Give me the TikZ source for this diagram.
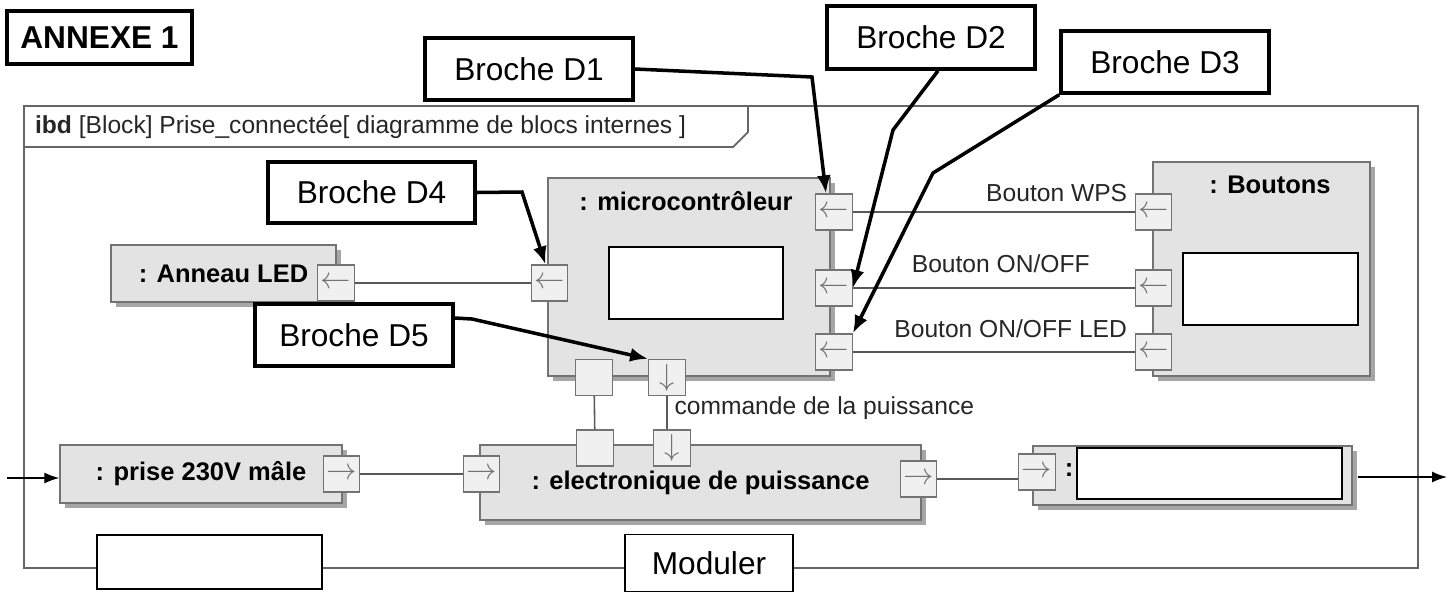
\documentclass[tikz,border=0pt]{standalone}
\usepackage{fontspec}
\setmainfont{Liberation Sans}
\usetikzlibrary{arrows.meta,shadows,positioning}

\tikzset{
  callout/.style={draw, line width=2pt, fill=white, inner sep=0pt, font=\fontsize{18}{20}\selectfont},
  blank/.style={draw, line width=1.1pt, fill=white, inner sep=0pt},
  block/.style={draw=black!55, line width=0.8pt, fill=black!11, inner sep=0pt,
    drop shadow={shadow xshift=1mm, shadow yshift=-1mm, fill=black!35, opacity=1},
    font=\bfseries\fontsize{14.5}{16}\selectfont},
  blocktitle/.style={inner sep=1pt, font=\bfseries\fontsize{14.5}{16}\selectfont},
  port/.style={draw=black!55, line width=0.7pt, fill=black!6, inner sep=0pt,
    minimum width=7.3mm, minimum height=7.2mm, text=black!55, font=\fontsize{17}{17}\selectfont},
  wire/.style={draw=black!65, line width=0.9pt},
  pointer/.style={line width=2pt, -{Latex[length=3.6mm,width=2.8mm]}},
  lbl/.style={inner sep=1pt, text=black!85, font=\fontsize{14}{16}\selectfont},
}

\begin{document}
\begin{tikzpicture}[x=0.2mm, y=-0.2mm]
  \useasboundingbox (0,0) rectangle (1455,592);

  % Draw the frame of the diagram
  \draw[black!60, line width=1pt] (24,106) rectangle (1418,568);
  \draw[black!60, line width=1pt] (24,147) -- (733,147) -- (748,132) -- (748,106);
  \node[lbl, anchor=west] (ibd) at (33,127) {\textbf{ibd} [Block] Prise\_connectée[ diagramme de blocs internes ]};

  % Draw the blocks
  \node[block, minimum width=45mm, minimum height=11.4mm] (anneau) at (223.5,273.5) {: Anneau LED};
  \node[block, minimum width=56.4mm, minimum height=39.6mm] (micro) at (689,277) {};
  \node[blocktitle, anchor=north] (microtitle) at (686,189) {: microcontrôleur};
  \node[block, minimum width=43.4mm, minimum height=42.8mm] (boutons) at (1261.5,269) {};
  \node[blocktitle, anchor=north] (boutonstitle) at (1270,174) {: Boutons};
  \node[block, minimum width=56.4mm, minimum height=11.6mm] (prise) at (201,474) {: prise 230V mâle};
  \node[block, minimum width=88.2mm, minimum height=15mm] (elec) at (700.5,482.5) {: electronique de puissance};
  \node[block, minimum width=63.8mm, minimum height=11.8mm] (sortie) at (1192.5,475.5) {};
  \node[blocktitle] (colon) at (1069,470) {:};

  % Draw the empty answer boxes
  \node[blank, minimum width=34.8mm, minimum height=14.4mm] (microbox) at (696,283) {};
  \node[blank, minimum width=35mm, minimum height=14.4mm] (boutonsbox) at (1270.5,289) {};
  \node[blank, minimum width=53mm, minimum height=10.2mm] (sortiebox) at (1209.5,473.5) {};

  % Draw the ports
  \node[port] (ap) at (336,283) {$\leftarrow$};
  \node[port] (ml) at (549.5,283) {$\leftarrow$};
  \node[port] (mr1) at (834,212) {$\leftarrow$};
  \node[port] (mr2) at (834,288) {$\leftarrow$};
  \node[port] (mr3) at (834,352) {$\leftarrow$};
  \node[port] (mb1) at (594,377.5) {};
  \node[port] (mb2) at (667,377.5) {$\downarrow$};
  \node[port] (bp1) at (1153.5,212) {$\leftarrow$};
  \node[port] (bp2) at (1153.5,288) {$\leftarrow$};
  \node[port] (bp3) at (1153.5,352) {$\leftarrow$};
  \node[port] (ep1) at (595,448) {};
  \node[port] (ep2) at (672,448) {$\downarrow$};
  \node[port] (el) at (481.5,474) {$\rightarrow$};
  \node[port] (er) at (918.5,479) {$\rightarrow$};
  \node[port] (pp) at (341.5,474) {$\rightarrow$};
  \node[port] (sp) at (1037,472) {$\rightarrow$};

  % Draw the connectors
  \draw[wire] (ap) -- (ml);
  \draw[wire] (mr1) -- (bp1) node[lbl, pos=1, above left, yshift=1.6mm, xshift=-1mm] {Bouton WPS};
  \draw[wire] (mr2) -- (bp2) node[lbl, midway, above, yshift=2.6mm, xshift=1.4mm] {Bouton ON/OFF};
  \draw[wire] (mr3) -- (bp3) node[lbl, pos=0.56, above, yshift=2.4mm] {Bouton ON/OFF LED};
  \draw[wire] (mb1) -- (ep1);
  \draw[wire] (mb2) -- (mb2 |- ep2.north) node[lbl, pos=0.35, right, xshift=1mm] {commande de la puissance};
  \draw[wire] (pp) -- (el);
  \draw[wire] (er) -- (er -| sp.west);

  % Draw the input and output of the system
  \coordinate (in) at (7,478);
  \coordinate (out) at (1447,477);
  \draw[line width=0.8pt, -{Latex[length=3mm,width=2.2mm]}] (in) -- (in -| prise.west);
  \draw[line width=0.8pt, -{Latex[length=3mm,width=2.2mm]}] (out -| sortie.east) ++(1mm,0) -- (out);

  % Draw the labels and the boxes on the bottom line
  \node[callout, line width=2.2pt, minimum width=37mm, minimum height=10.6mm, font=\bfseries\fontsize{18}{20}\selectfont] (annexe) at (99.5,37.5) {ANNEXE 1};
  \node[blank, minimum width=45mm, minimum height=10.8mm] (fonction) at (209.5,562) {};
  \node[blank, minimum width=33.6mm, minimum height=11.4mm, font=\fontsize{18}{20}\selectfont] (moduler) at (709,563) {Moduler};

  \node[callout, minimum width=41.6mm, minimum height=12.4mm] (d1) at (529,69) {Broche D1};
  \node[callout, minimum width=41.6mm, minimum height=12.6mm] (d2) at (931,37.5) {Broche D2};
  \node[callout, minimum width=41.6mm, minimum height=12.4mm] (d3) at (1165,62) {Broche D3};
  \node[callout, minimum width=41.4mm, minimum height=12.2mm] (d4) at (371.5,192.5) {Broche D4};
  \node[callout, minimum width=39.6mm, minimum height=12.4mm] (d5) at (354,335) {Broche D5};

  % Draw the pointers to the pins
  \draw[pointer] (d1.east) -- (812,77) -- ([xshift=-1.6mm]mr1.north);
  \draw[pointer] ([xshift=1.4mm]d2.south) -- (893,130) -- (mr2.east);
  \draw[pointer] (d3.south west) -- (933,173) -- (mr3.north east);
  \draw[pointer] (d4.east) -- (522,192) -- ([xshift=-0.8mm]ml.north);
  \draw[pointer] ([yshift=3.4mm]d5.east) -- (472,319) -- (mb2.north west);
\end{tikzpicture}
\end{document}
